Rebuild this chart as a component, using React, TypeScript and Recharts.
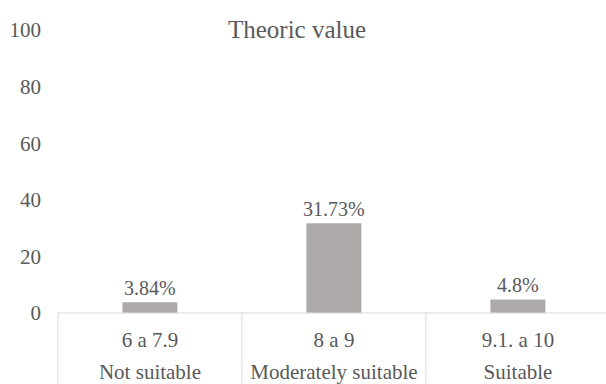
import React from 'react';
import { BarChart, Bar, XAxis, YAxis, LabelList } from 'recharts';

const ranges = ['6 a 7.9', '8 a 9', '9.1. a 10'];
const ratings = ['Not suitable', 'Moderately suitable', 'Suitable'];
const percents = [3.84, 31.73, 4.8];
const valueLabels = ['3.84%', '31.73%', '4.8%'];
const yTicks = [0, 20, 40, 60, 80, 100];

const data = ranges.map((range, i) => ({
  range,
  rating: ratings[i],
  value: percents[i],
  label: valueLabels[i],
}));

const TEXT = '#595959';
const BAR = '#aeaaaa';
const RULE = '#d9d9d9';
const FONT = '"Liberation Serif", "Times New Roman", serif';

// two-row category label with a divider on the left edge of each band
const CategoryTick = (props: any) => {
  const { x, y, payload, index } = props;
  const half = payload.offset || 91.5;
  const row = data[index] || data[0];
  return (
    <g>
      <line x1={x - half} y1={y} x2={x - half} y2={384} stroke={RULE} strokeWidth={1} />
      {index === data.length - 1 && (
        <line x1={x + half} y1={y} x2={x + half} y2={384} stroke={RULE} strokeWidth={1} />
      )}
      <text x={x} y={y + 34} textAnchor="middle" fill={TEXT} fontSize={21} fontFamily={FONT}>
        {row.range}
      </text>
      <text x={x} y={y + 66} textAnchor="middle" fill={TEXT} fontSize={21} fontFamily={FONT}>
        {row.rating}
      </text>
    </g>
  );
};

export default function App() {
  return (
    <div style={{ position: 'absolute', left: 0, top: 0, width: 606, height: 384, overflow: 'hidden', background: '#fff' }}>
      <BarChart
        width={610}
        height={384}
        data={data}
        margin={{ top: 30, right: 0, bottom: 0, left: 0 }}
        barCategoryGap="35%"
      >
        <text x={297} y={38} textAnchor="middle" fill={TEXT} fontSize={25} fontFamily={FONT}>
          Theoric value
        </text>
        <XAxis
          dataKey="range"
          height={71}
          axisLine={{ stroke: RULE, strokeWidth: 1 }}
          tickLine={false}
          tickSize={0}
          tickMargin={0}
          interval={0}
          tick={<CategoryTick />}
        />
        <YAxis
          width={58}
          domain={[0, 100]}
          ticks={yTicks}
          axisLine={false}
          tickLine={false}
          tickMargin={11}
          tick={{ fill: TEXT, fontSize: 21, fontFamily: FONT }}
        />
        <Bar dataKey="value" fill={BAR} isAnimationActive={false}>
          <LabelList
            dataKey="label"
            position="top"
            offset={7}
            fill={TEXT}
            fontSize={20}
            fontFamily={FONT}
            style={{ fontFamily: FONT }}
          />
        </Bar>
      </BarChart>
    </div>
  );
}
